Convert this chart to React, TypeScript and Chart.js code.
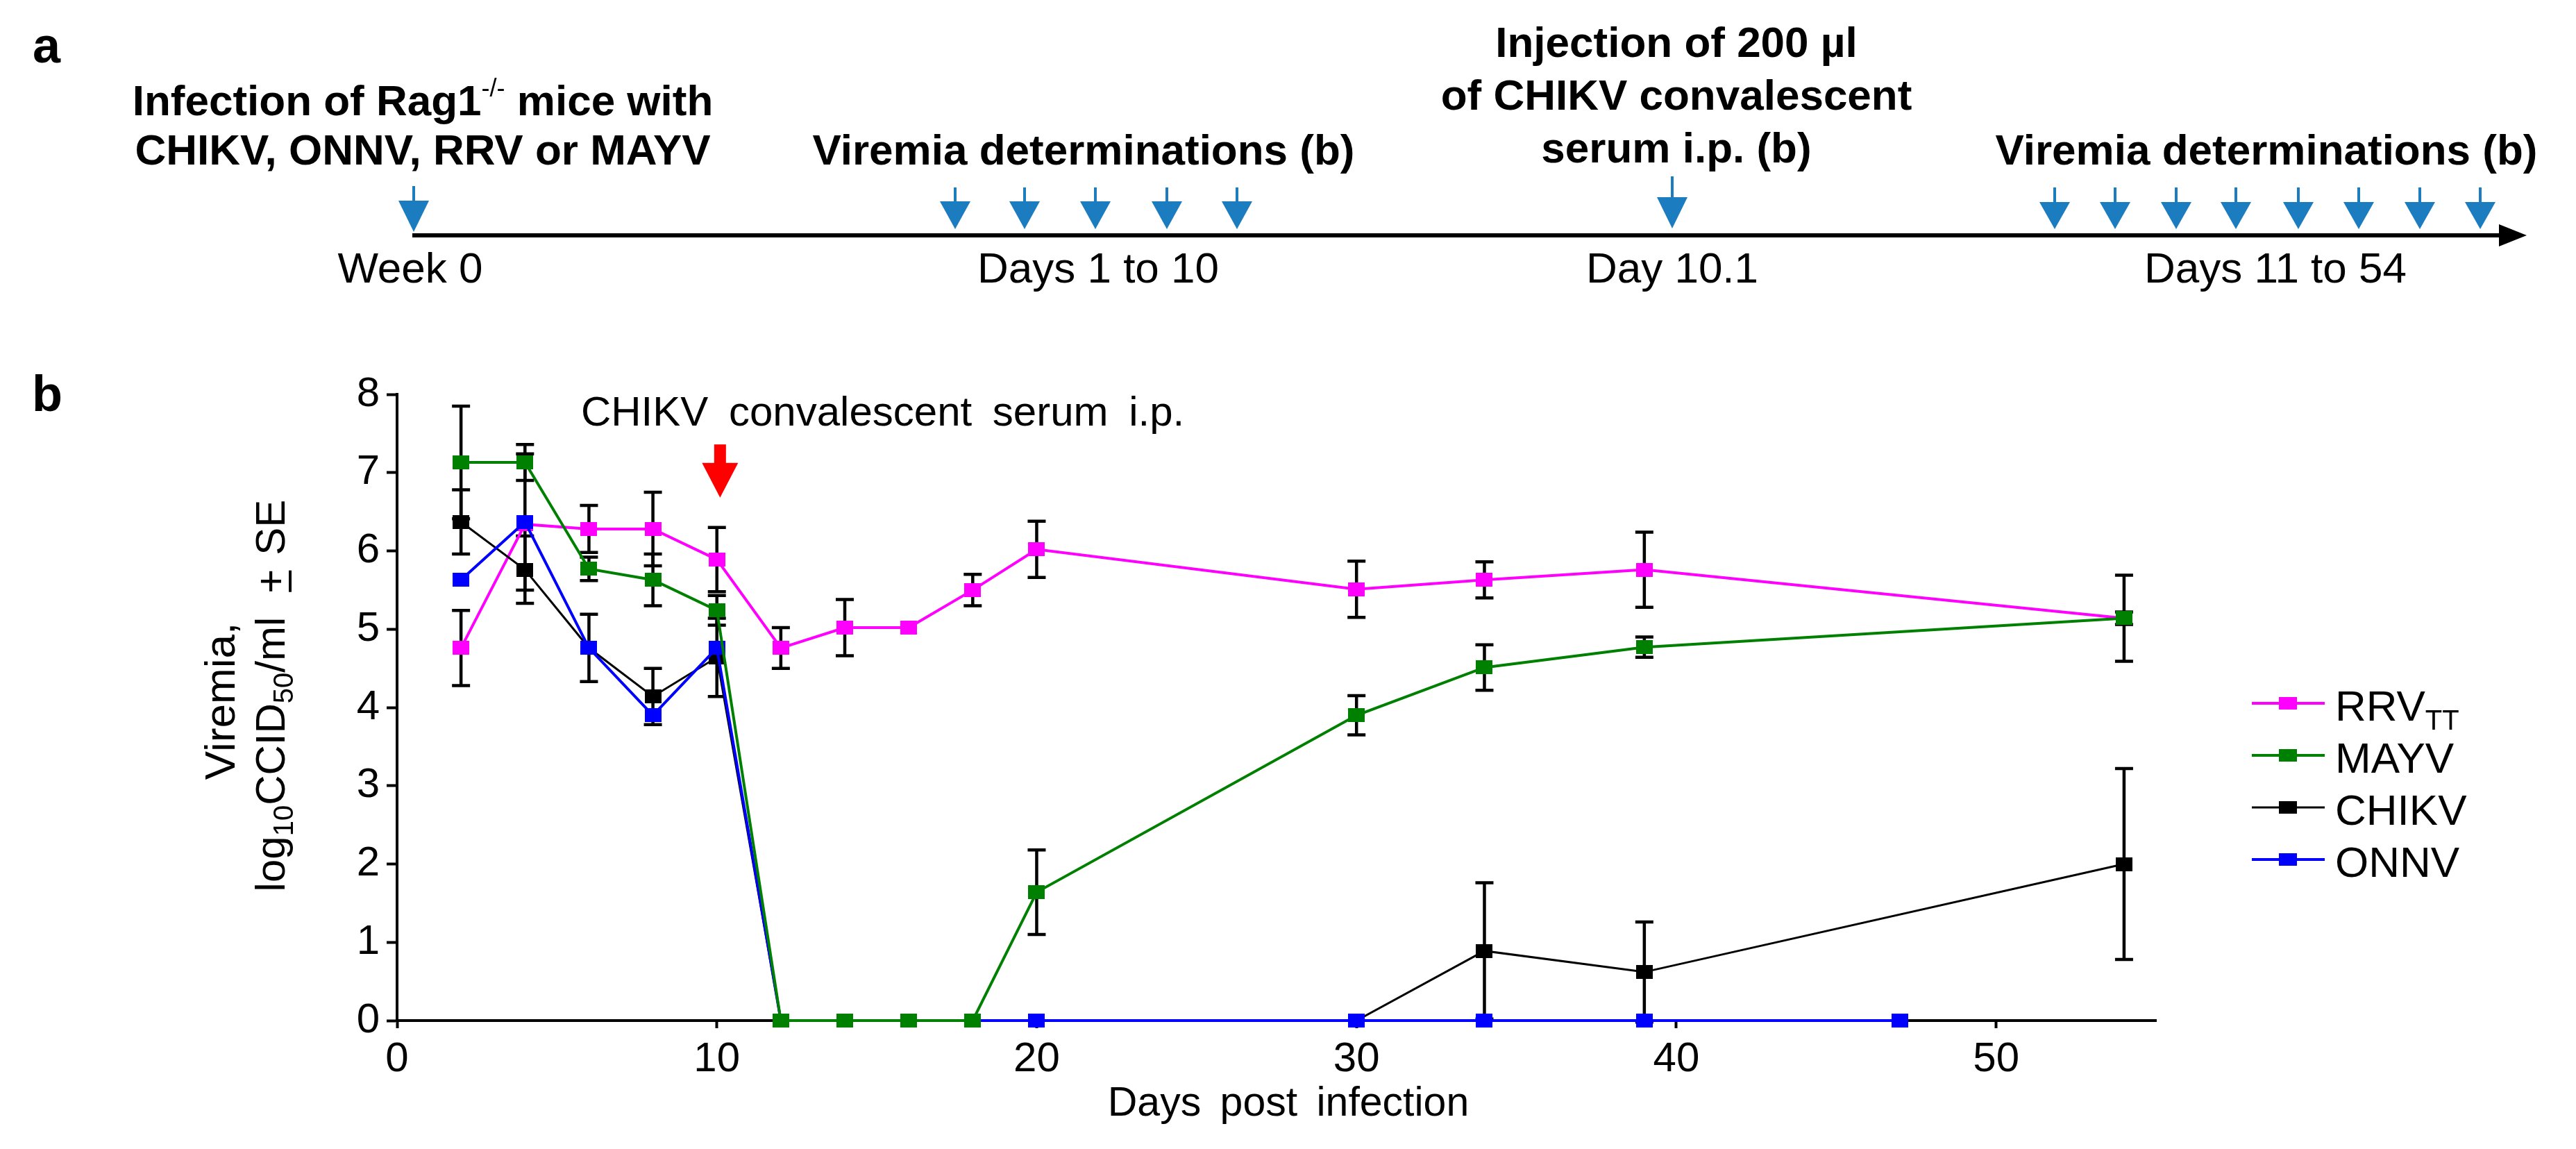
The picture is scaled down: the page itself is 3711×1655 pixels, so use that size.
import React, { useEffect, useRef } from 'react';
import { Chart, registerables } from 'chart.js';

Chart.register(...registerables);

const FONT_FAMILY = "'Liberation Sans', Arial, Helvetica, sans-serif";

// ---------------- Panel b data (days post infection, log10 CCID50/ml, SE) ----------------
const rrvDays = [2, 4, 6, 8, 10, 12, 14, 16, 18, 20, 30, 34, 39, 54];
const rrvViremia = [4.76, 6.34, 6.28, 6.28, 5.89, 4.76, 5.02, 5.02, 5.5, 6.02, 5.51, 5.63, 5.76, 5.14];
const rrvSE = [0.48, 0, 0.3, 0.47, 0.41, 0.26, 0.36, 0, 0.2, 0.36, 0.36, 0.23, 0.48, 0.55];

const mayvDays = [2, 4, 6, 8, 10, 12, 14, 16, 18, 20, 30, 34, 39, 54];
const mayvViremia = [7.13, 7.13, 5.77, 5.63, 5.24, 0, 0, 0, 0, 1.64, 3.9, 4.51, 4.77, 5.14];
const mayvSE = [0.72, 0.23, 0.15, 0.33, 0.19, 0, 0, 0, 0, 0.54, 0.25, 0.29, 0.13, 0.08];

const chikvDays = [2, 4, 6, 8, 10, 12, 14, 16, 18, 20, 30, 34, 39, 54];
const chikvViremia = [6.37, 5.76, 4.76, 4.14, 4.64, 0, 0, 0, 0, 0, 0, 0.89, 0.62, 2.0];
const chikvSE = [0.41, 0.43, 0.43, 0.36, 0.5, 0, 0, 0, 0, 0, 0, 0.87, 0.64, 1.22];

const onnvDays = [2, 4, 6, 8, 10, 12, 20, 30, 34, 39, 47];
const onnvViremia = [5.63, 6.37, 4.76, 3.9, 4.76, 0, 0, 0, 0, 0, 0];
const onnvSE = [0, 0.87, 0, 0, 0, 0, 0, 0, 0, 0, 0];

const seriesNames = ['RRV', 'MAYV', 'CHIKV', 'ONNV'];
const seriesSubscripts = ['TT', '', '', ''];

const xAxisMin = 0;
const xAxisMax = 55;
const xTickStep = 10;
const yAxisMin = 0;
const yAxisMax = 8;
const yTickStep = 1;

const serumDay = 10.1;
const serumArrowFrom = 7.36;
const serumArrowTo = 6.68;
const annotationText = 'CHIKV convalescent serum i.p.';
const annotationDay = 5.75;
const annotationLevel = 7.6;
const xAxisTitle = 'Days post infection';

// ---------------- Panel a (schedule) ----------------
const infectionArrowX = [596];
const earlySamplingArrowX = [1376, 1476, 1578, 1681, 1782];
const serumArrowX = [2409];
const lateSamplingArrowX = [2960, 3047, 3135, 3221, 3311, 3398, 3486, 3573];

// ---------------- styles ----------------
const SERIES_STYLE = [
  { color: '#ff00ff', width: 4, order: 4 },
  { color: '#008000', width: 4, order: 1 },
  { color: '#000000', width: 3, order: 3 },
  { color: '#0000ff', width: 4, order: 2 },
];
const PAGE_W = 3711;
const PAGE_H = 1655;
const PANEL_A_H = 480;
const PANEL_B_H = PAGE_H - PANEL_A_H;
const TIMELINE_BLUE = '#1c7cc0';

type Run = { text: string; size: number; bold?: boolean; dy?: number; underline?: boolean; gapAfter?: number };

function font(size: number, bold = false) {
  return `${bold ? 'bold ' : ''}${size}px ${FONT_FAMILY}`;
}

function drawRuns(ctx: CanvasRenderingContext2D, runs: Run[], x: number, y: number, align: 'left' | 'center') {
  ctx.textAlign = 'left';
  const widths = runs.map((r) => {
    ctx.font = font(r.size, r.bold);
    return ctx.measureText(r.text).width;
  });
  const total = widths.reduce((s, w, i) => s + w + (runs[i].gapAfter || 0), 0);
  let cx = align === 'center' ? x - total / 2 : x;
  runs.forEach((r, i) => {
    ctx.font = font(r.size, r.bold);
    ctx.fillText(r.text, cx, y + (r.dy || 0));
    if (r.underline) {
      ctx.fillRect(cx + 2, y + 6, widths[i] - 4, 4);
    }
    cx += widths[i] + (r.gapAfter || 0);
  });
  return total;
}

function makeMarker(color: string, w: number, h: number) {
  const c = document.createElement('canvas');
  c.width = w;
  c.height = h;
  const g = c.getContext('2d')!;
  g.fillStyle = color;
  g.fillRect(0, 0, w, h);
  return c;
}

function drawDownArrow(
  ctx: CanvasRenderingContext2D,
  x: number,
  shaftTop: number,
  headTop: number,
  tip: number,
  halfW: number,
  shaftW: number,
  color: string
) {
  ctx.save();
  ctx.fillStyle = color;
  ctx.fillRect(x - shaftW / 2, shaftTop, shaftW, headTop - shaftTop + 1);
  ctx.beginPath();
  ctx.moveTo(x - halfW, headTop);
  ctx.lineTo(x + halfW, headTop);
  ctx.lineTo(x, tip);
  ctx.closePath();
  ctx.fill();
  ctx.restore();
}

const panelAPlugin = {
  id: 'panelA',
  afterDraw(chart: any) {
    const { ctx } = chart;
    const sx = chart.scales.x;
    const sy = chart.scales.y;
    const X = (v: number) => sx.getPixelForValue(v);
    const Y = (v: number) => sy.getPixelForValue(v);
    ctx.save();
    ctx.fillStyle = '#000';
    ctx.textBaseline = 'alphabetic';
    ctx.textAlign = 'center';
    ctx.font = font(72, true);
    ctx.fillText('a', X(67), Y(90));

    // timeline axis
    ctx.strokeStyle = '#000';
    ctx.lineWidth = 6;
    ctx.beginPath();
    ctx.moveTo(X(594), Y(339));
    ctx.lineTo(X(3606), Y(339));
    ctx.stroke();
    ctx.beginPath();
    ctx.moveTo(X(3600), Y(323));
    ctx.lineTo(X(3640), Y(339));
    ctx.lineTo(X(3600), Y(355));
    ctx.closePath();
    ctx.fill();

    // arrows
    infectionArrowX.forEach((v) => drawDownArrow(ctx, X(v), Y(268), Y(289), Y(334), 22, 4, TIMELINE_BLUE));
    earlySamplingArrowX.forEach((v) => drawDownArrow(ctx, X(v), Y(270), Y(290), Y(330), 22, 4, TIMELINE_BLUE));
    serumArrowX.forEach((v) => drawDownArrow(ctx, X(v), Y(254), Y(284), Y(329), 22, 4, TIMELINE_BLUE));
    lateSamplingArrowX.forEach((v) => drawDownArrow(ctx, X(v), Y(270), Y(291), Y(330), 22, 4, TIMELINE_BLUE));

    // bold headings
    ctx.fillStyle = '#000';
    ctx.textBaseline = 'middle';
    drawRuns(
      ctx,
      [
        { text: 'Infection of Rag1', size: 62, bold: true },
        { text: '-/-', size: 36, bold: false, dy: -20 },
        { text: ' mice with', size: 62, bold: true },
      ],
      X(609),
      Y(149),
      'center'
    );
    drawRuns(ctx, [{ text: 'CHIKV, ONNV, RRV or MAYV', size: 62, bold: true }], X(609), Y(220), 'center');
    drawRuns(ctx, [{ text: 'Viremia determinations (b)', size: 62, bold: true }], X(1561), Y(220), 'center');
    drawRuns(ctx, [{ text: 'Injection of 200 µl', size: 62, bold: true }], X(2415), Y(65), 'center');
    drawRuns(ctx, [{ text: 'of CHIKV convalescent', size: 62, bold: true }], X(2415), Y(141), 'center');
    drawRuns(ctx, [{ text: 'serum i.p. (b)', size: 62, bold: true }], X(2415), Y(217), 'center');
    drawRuns(ctx, [{ text: 'Viremia determinations (b)', size: 62, bold: true }], X(3265), Y(220), 'center');

    // normal labels
    drawRuns(ctx, [{ text: 'Week 0', size: 62 }], X(591), Y(390), 'center');
    drawRuns(ctx, [{ text: 'Days 1 to 10', size: 62 }], X(1582), Y(390), 'center');
    drawRuns(ctx, [{ text: 'Day 10.1', size: 62 }], X(2409), Y(390), 'center');
    drawRuns(ctx, [{ text: 'Days 11 to 54', size: 62 }], X(3278), Y(390), 'center');
    ctx.restore();
  },
};

const panelBPlugin = {
  id: 'panelB',
  beforeDatasetsDraw(chart: any) {
    const { ctx } = chart;
    const sx = chart.scales.x;
    const sy = chart.scales.y;
    ctx.save();
    ctx.strokeStyle = '#000';
    ctx.lineWidth = 4.5;
    chart.data.datasets.forEach((ds: any) => {
      const se: number[] = ds.seValues;
      if (!se) return;
      ds.data.forEach((p: any, i: number) => {
        const e = se[i];
        if (!e) return;
        const px = sx.getPixelForValue(p.x);
        const top = sy.getPixelForValue(p.y + e);
        const bot = sy.getPixelForValue(p.y - e);
        ctx.beginPath();
        ctx.moveTo(px, top);
        ctx.lineTo(px, bot);
        ctx.moveTo(px - 13, top);
        ctx.lineTo(px + 13, top);
        ctx.moveTo(px - 13, bot);
        ctx.lineTo(px + 13, bot);
        ctx.stroke();
      });
    });
    ctx.restore();
  },
  afterDraw(chart: any) {
    const { ctx, chartArea } = chart;
    const sx = chart.scales.x;
    const sy = chart.scales.y;
    ctx.save();
    ctx.fillStyle = '#000';

    // panel label
    ctx.textAlign = 'center';
    ctx.textBaseline = 'alphabetic';
    ctx.font = font(72, true);
    ctx.fillText('b', 68, 112);

    // red arrow for serum injection
    const ax = sx.getPixelForValue(serumDay);
    const aTop = sy.getPixelForValue(serumArrowFrom);
    const aTip = sy.getPixelForValue(serumArrowTo);
    const headTop = aTip - 50;
    drawDownArrow(ctx, ax, aTop, headTop, aTip, 26, 17, '#ff0000');

    // annotation
    ctx.fillStyle = '#000';
    ctx.textBaseline = 'alphabetic';
    ctx.textAlign = 'left';
    ctx.font = font(60);
    (ctx as any).wordSpacing = '13px';
    ctx.fillText(annotationText, sx.getPixelForValue(annotationDay), sy.getPixelForValue(annotationLevel));

    // x axis title
    ctx.textAlign = 'center';
    ctx.font = font(59);
    (ctx as any).wordSpacing = '11px';
    ctx.fillText(xAxisTitle, (chartArea.left + chartArea.right) / 2 + 17, chartArea.bottom + 137);
    (ctx as any).wordSpacing = '0px';

    // y axis title (rotated, two lines)
    const cy = (chartArea.top + chartArea.bottom) / 2;
    ctx.save();
    ctx.translate(chartArea.left - 234, cy - 9);
    ctx.rotate(-Math.PI / 2);
    ctx.textBaseline = 'alphabetic';
    drawRuns(ctx, [{ text: 'Viremia,', size: 62 }], 0, 0, 'center');
    ctx.restore();
    ctx.save();
    ctx.translate(chartArea.left - 162, cy - 17);
    ctx.rotate(-Math.PI / 2);
    ctx.textBaseline = 'alphabetic';
    drawRuns(
      ctx,
      [
        { text: 'log', size: 60 },
        { text: '10', size: 40, dy: 12 },
        { text: 'CCID', size: 60 },
        { text: '50', size: 40, dy: 12 },
        { text: '/ml', size: 60, gapAfter: 34 },
        { text: '+', size: 60, underline: true, gapAfter: 20 },
        { text: 'SE', size: 60 },
      ],
      0,
      0,
      'center'
    );
    ctx.restore();

    // legend
    const lx0 = chartArea.right + 138;
    const lx1 = chartArea.right + 243;
    const lm = chartArea.right + 190;
    const lt = chartArea.right + 258;
    chart.data.datasets.forEach((ds: any, i: number) => {
      const ry = 533 + i * 75;
      ctx.strokeStyle = ds.borderColor;
      ctx.lineWidth = ds.borderWidth;
      ctx.beginPath();
      ctx.moveTo(lx0, ry);
      ctx.lineTo(lx1, ry);
      ctx.stroke();
      ctx.fillStyle = ds.borderColor;
      ctx.fillRect(lm - 13, ry - 9, 26, 18);
      ctx.fillStyle = '#000';
      ctx.textBaseline = 'alphabetic';
      const runs: Run[] = [{ text: seriesNames[i], size: 62 }];
      if (seriesSubscripts[i]) runs.push({ text: seriesSubscripts[i], size: 40, dy: 13 });
      drawRuns(ctx, runs, lt, ry + 25, 'left');
    });
    ctx.restore();
  },
};

export default function App() {
  const refA = useRef<HTMLCanvasElement>(null);
  const refB = useRef<HTMLCanvasElement>(null);

  useEffect(() => {
    document.body.style.margin = '0';
    const chartA = new Chart(refA.current!, {
      type: 'scatter',
      data: {
        datasets: [
          {
            data: [...infectionArrowX, ...earlySamplingArrowX, ...serumArrowX, ...lateSamplingArrowX].map((v) => ({ x: v, y: 339 })),
            pointRadius: 0,
          },
        ],
      },
      options: {
        animation: false,
        responsive: true,
        maintainAspectRatio: false,
        layout: { padding: 0 },
        events: [],
        scales: {
          x: { type: 'linear', min: 0, max: PAGE_W, display: false },
          y: { type: 'linear', min: 0, max: PANEL_A_H, reverse: true, display: false },
        },
        plugins: { legend: { display: false }, tooltip: { enabled: false } },
      },
      plugins: [panelAPlugin],
    } as any);

    const seriesDays = [rrvDays, mayvDays, chikvDays, onnvDays];
    const seriesValues = [rrvViremia, mayvViremia, chikvViremia, onnvViremia];
    const seriesSE = [rrvSE, mayvSE, chikvSE, onnvSE];

    const chartB = new Chart(refB.current!, {
      type: 'line',
      data: {
        datasets: seriesNames.map((name, k) => ({
          label: name,
          data: seriesDays[k].map((d, i) => ({ x: d, y: seriesValues[k][i] })),
          seValues: seriesSE[k],
          borderColor: SERIES_STYLE[k].color,
          backgroundColor: SERIES_STYLE[k].color,
          borderWidth: SERIES_STYLE[k].width,
          pointStyle: makeMarker(SERIES_STYLE[k].color, 24, 20),
          pointRadius: 12,
          pointHoverRadius: 12,
          order: SERIES_STYLE[k].order,
          clip: false,
          tension: 0,
        })),
      },
      options: {
        animation: false,
        responsive: true,
        maintainAspectRatio: false,
        events: [],
        layout: { padding: { left: 0, top: 88, right: 605, bottom: 0 } },
        scales: {
          x: {
            type: 'linear',
            min: xAxisMin,
            max: xAxisMax,
            ticks: {
              stepSize: xTickStep,
              includeBounds: false,
              color: '#000',
              font: { family: FONT_FAMILY, size: 60 },
              padding: 9,
              maxRotation: 0,
            },
            grid: { drawOnChartArea: false, drawTicks: true, tickLength: 11, tickWidth: 4, tickColor: '#000' },
            border: { display: true, color: '#000', width: 4 },
            afterFit: (s: any) => {
              s.height = 185;
            },
          },
          y: {
            type: 'linear',
            min: yAxisMin,
            max: yAxisMax,
            ticks: {
              stepSize: yTickStep,
              color: '#000',
              font: { family: FONT_FAMILY, size: 60 },
              padding: 10,
            },
            grid: { drawOnChartArea: false, drawTicks: true, tickLength: 15, tickWidth: 4, tickColor: '#000' },
            border: { display: true, color: '#000', width: 4 },
            afterFit: (s: any) => {
              s.width = 572;
            },
          },
        },
        plugins: { legend: { display: false }, tooltip: { enabled: false } },
      },
      plugins: [panelBPlugin],
    } as any);

    return () => {
      chartA.destroy();
      chartB.destroy();
    };
  }, []);

  return (
    <div style={{ position: 'absolute', left: 0, top: 0, width: PAGE_W, height: PAGE_H, background: '#fff', overflow: 'hidden' }}>
      <div style={{ position: 'absolute', left: 0, top: 0, width: PAGE_W, height: PANEL_A_H }}>
        <canvas ref={refA} />
      </div>
      <div style={{ position: 'absolute', left: 0, top: PANEL_A_H, width: PAGE_W, height: PANEL_B_H }}>
        <canvas ref={refB} />
      </div>
    </div>
  );
}
